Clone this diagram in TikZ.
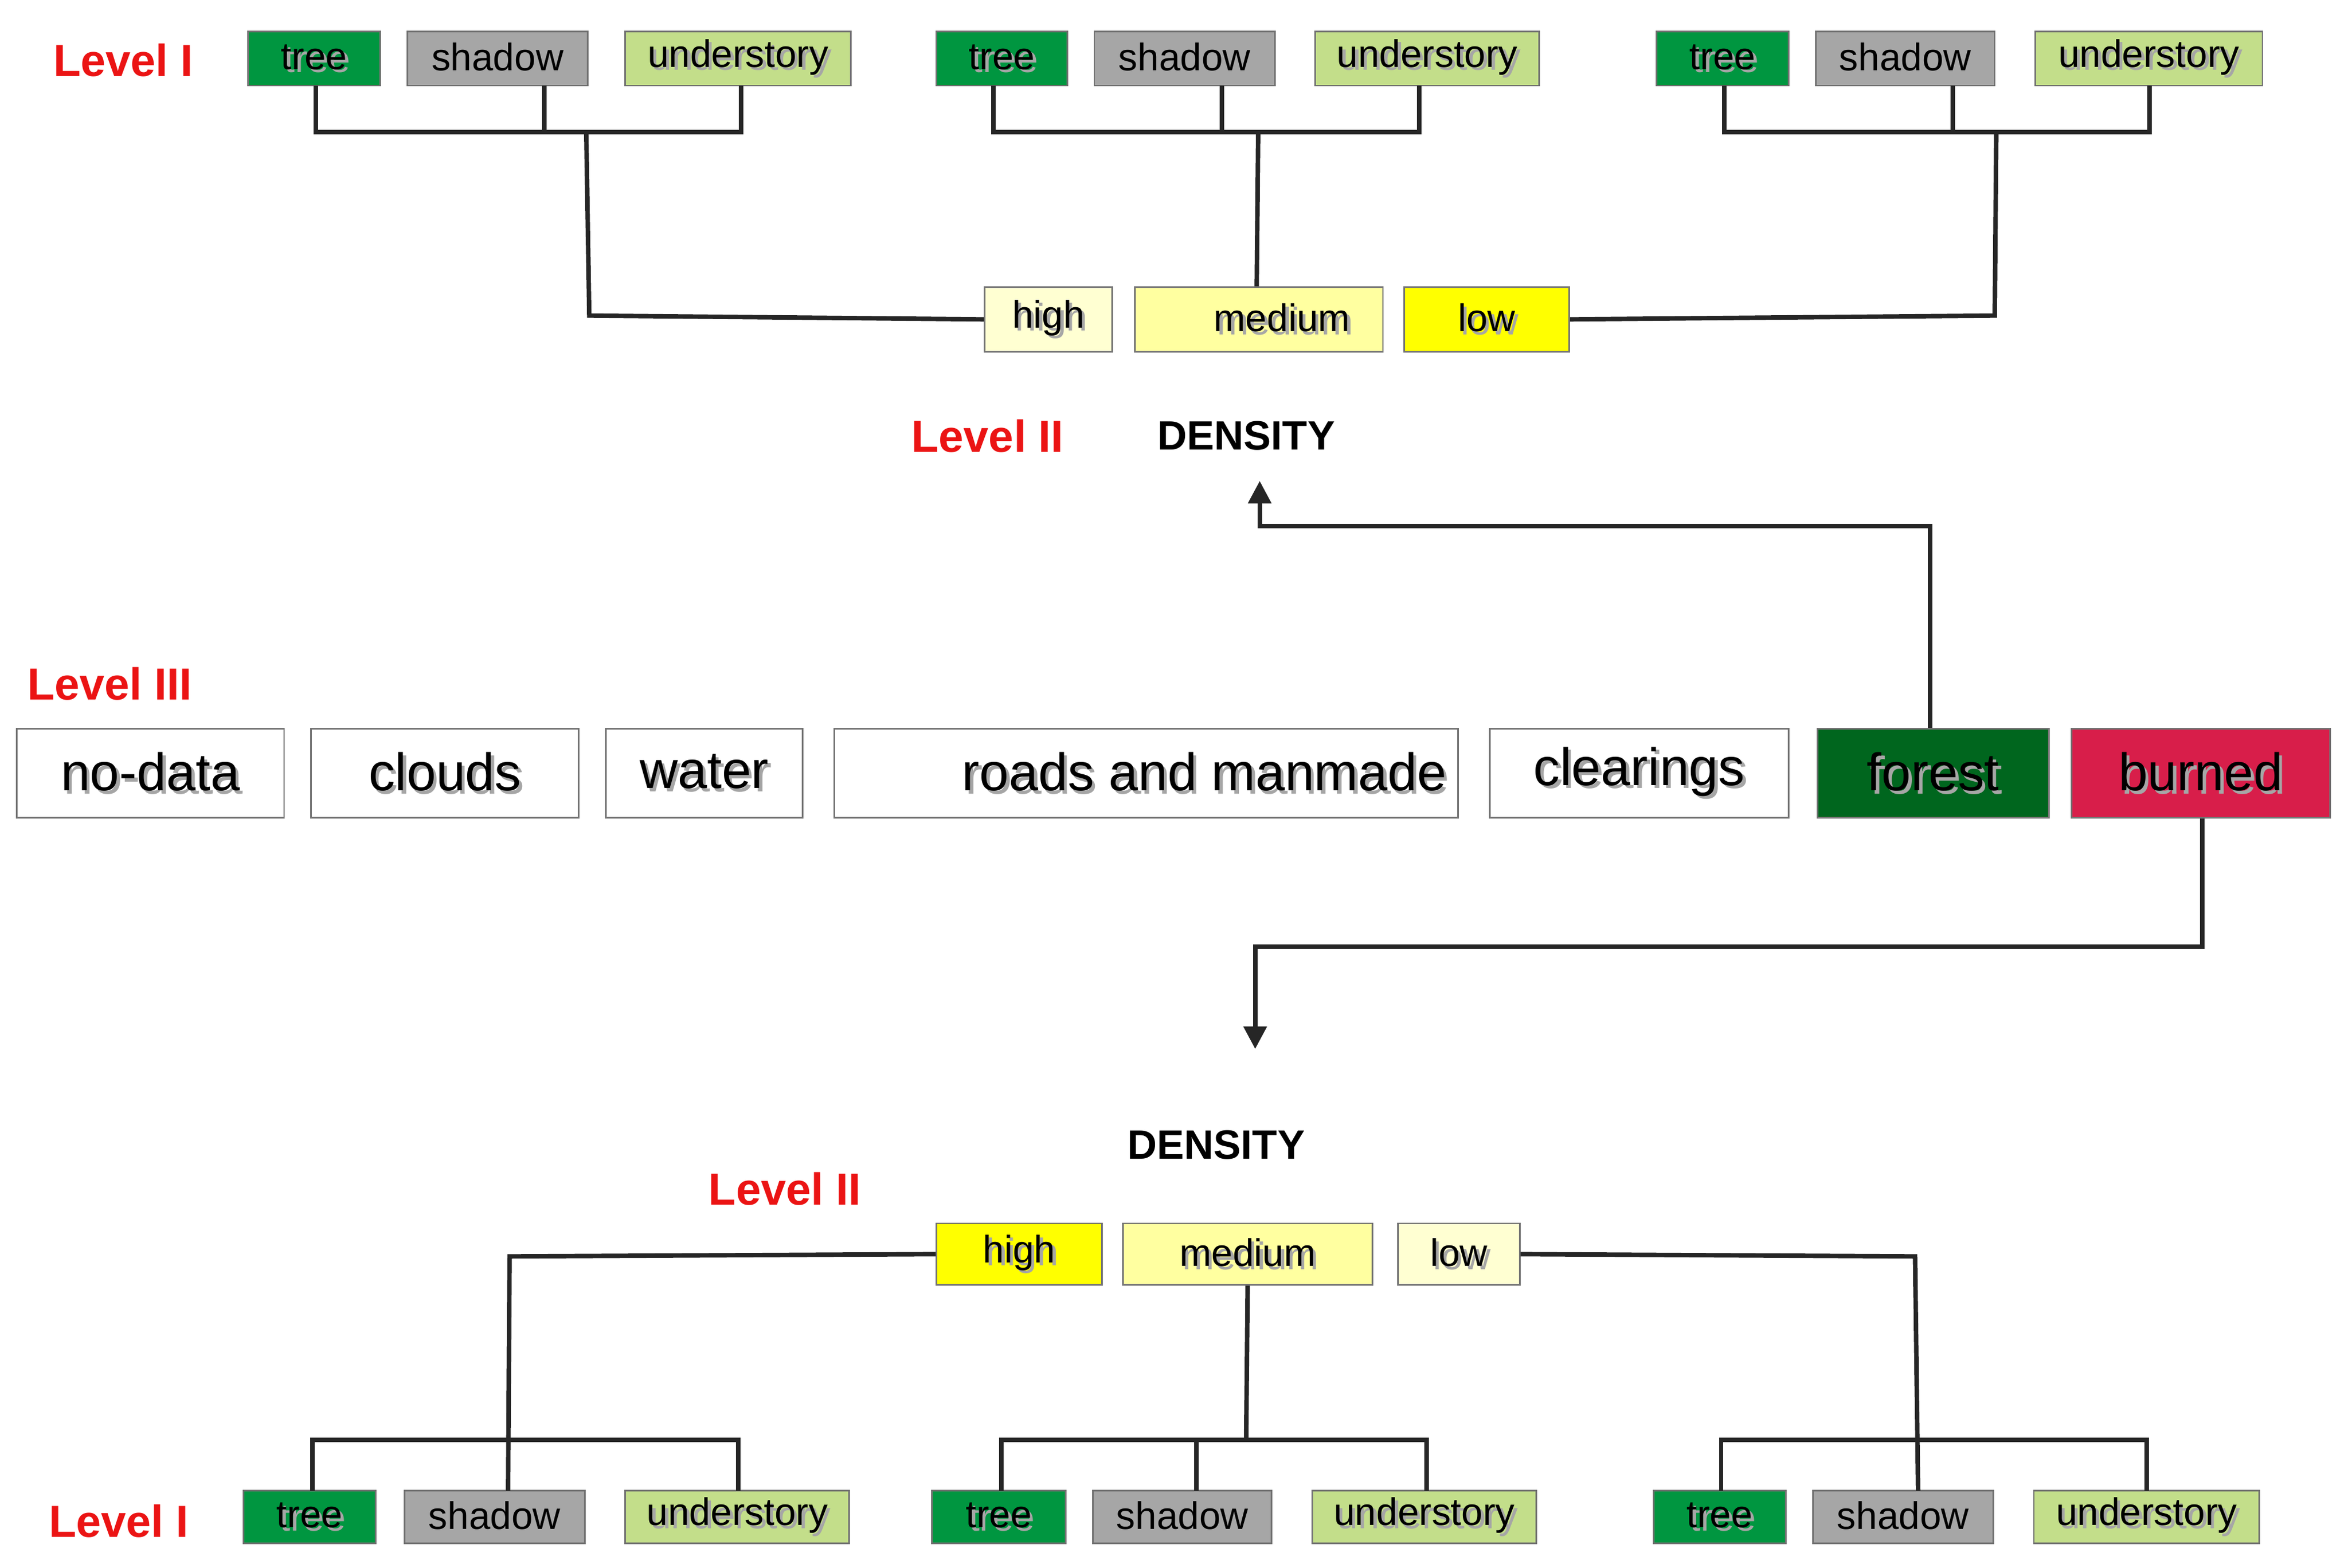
\documentclass[tikz,border=0pt]{standalone}
\usepackage{fontspec}
\setmainfont{Liberation Sans}
\usetikzlibrary{arrows.meta}
\definecolor{cTree}{RGB}{0,150,64}
\definecolor{cShadow}{RGB}{166,166,166}
\definecolor{cUnder}{RGB}{195,222,138}
\definecolor{cY}{RGB}{255,255,0}
\definecolor{cYm}{RGB}{255,255,160}
\definecolor{cYl}{RGB}{255,255,210}
\definecolor{cForest}{RGB}{0,102,30}
\definecolor{cBurn}{RGB}{216,30,74}
\definecolor{cRed}{RGB}{235,20,20}
\newcommand\shd[1]{\makebox[0pt][l]{\raisebox{-1.2pt}{\hspace{1.2pt}\textcolor{black!35}{#1}}}#1}
\newcommand\bx[7]{\node[#6, minimum width={(#3-#2)*0.02cm}, minimum height={(#5-#4)*0.02cm}] (#1) at ({(#2+#3)/2},{(#4+#5)/2}) {\shd{#7}};}
\tikzset{
 box/.style={draw=black!55, line width=0.6pt, inner sep=0pt},
 sm/.style={box, font=\fontsize{14.5}{16}\selectfont},
 big/.style={box, font=\fontsize{20}{22}\selectfont},
 ln/.style={line width=1.7pt, black!85},
 arr/.style={ln, -{Triangle[width=0.3cm,length=0.3cm]}},
 lvl/.style={text=cRed, font=\fontsize{17}{19}\selectfont\bfseries},
 dens/.style={font=\fontsize{15.5}{17}\selectfont\bfseries}
}
\begin{document}
\begin{tikzpicture}[x=0.02cm,y=-0.02cm]
\useasboundingbox (0,0) rectangle (1562,1043);
% top level I
\node[lvl] (L1t) at (82,40) {Level I};
\bx{ta1}{165}{253}{21}{57}{sm,fill=cTree}{tree}
\bx{sa1}{271}{391}{21}{57}{sm,fill=cShadow}{shadow}
\bx{ua1}{416}{566}{21}{57}{sm,fill=cUnder}{understory}
\bx{ta2}{623}{710}{21}{57}{sm,fill=cTree}{tree}
\bx{sa2}{728}{848}{21}{57}{sm,fill=cShadow}{shadow}
\bx{ua2}{875}{1024}{21}{57}{sm,fill=cUnder}{understory}
\bx{ta3}{1102}{1190}{21}{57}{sm,fill=cTree}{tree}
\bx{sa3}{1208}{1327}{21}{57}{sm,fill=cShadow}{shadow}
\bx{ua3}{1354}{1505}{21}{57}{sm,fill=cUnder}{understory}
% top level II
\bx{ht}{655}{740}{191}{234}{sm,fill=cYl}{high}
\bx{mt}{755}{920}{191}{234}{sm,fill=cYm}{\hspace{1.2em}medium}
\bx{lt}{934}{1044}{191}{234}{sm,fill=cY}{low}
\draw[ln] (210,57) -- (210,88) -- (493,88) -- (493,57);
\draw[ln] (362,57) -- (362,88);
\draw[ln] (390,88) -- (392,210) -- (ht.west);
\draw[ln] (661,57) -- (661,88) -- (944,88) -- (944,57);
\draw[ln] (813,57) -- (813,88);
\draw[ln] (837,88) -- (mt.north -| 836,0);
\draw[ln] (1147,57) -- (1147,88) -- (1430,88) -- (1430,57);
\draw[ln] (1299,57) -- (1299,88);
\draw[ln] (1328,88) -- (1327,210) -- (lt.east);
\node[lvl] (L2t) at (657,290) {Level II};
\node[dens] (Dt) at (829,290) {DENSITY};
% level III
\node[lvl] (L3) at (73,455) {Level III};
\bx{nd}{11}{189}{485}{544}{big,fill=white}{no-data}
\bx{cl}{207}{385}{485}{544}{big,fill=white}{clouds}
\bx{wa}{403}{534}{485}{544}{big,fill=white}{water}
\bx{rd}{555}{970}{485}{544}{big,fill=white}{\hspace{2.2em}roads and manmade}
\bx{cr}{991}{1190}{485}{544}{big,fill=white}{clearings}
\bx{fo}{1209}{1363}{485}{544}{big,fill=cForest}{forest}
\bx{bu}{1378}{1550}{485}{544}{big,fill=cBurn}{burned}
\coordinate (ea) at (838,320);
\coordinate (eb) at (835,698);
\draw[arr] (fo.north -| 1284,0) -- (1284,350) -- (838,350) -- (ea);
\draw[arr] (bu.south -| 1465,0) -- (1465,630) -- (835,630) -- (eb);
% bottom
\node[dens] (Db) at (809,762) {DENSITY};
\node[lvl] (L2b) at (522,791) {Level II};
\bx{hb}{623}{733}{814}{855}{sm,fill=cY}{high}
\bx{mb}{747}{913}{814}{855}{sm,fill=cYm}{medium}
\bx{lb}{930}{1011}{814}{855}{sm,fill=cYl}{low}
\node[lvl] (L1b) at (79,1012) {Level I};
\bx{tb1}{162}{250}{992}{1027}{sm,fill=cTree}{tree}
\bx{sb1}{269}{389}{992}{1027}{sm,fill=cShadow}{shadow}
\bx{ub1}{416}{565}{992}{1027}{sm,fill=cUnder}{understory}
\bx{tb2}{620}{709}{992}{1027}{sm,fill=cTree}{tree}
\bx{sb2}{727}{846}{992}{1027}{sm,fill=cShadow}{shadow}
\bx{ub2}{873}{1022}{992}{1027}{sm,fill=cUnder}{understory}
\bx{tb3}{1100}{1188}{992}{1027}{sm,fill=cTree}{tree}
\bx{sb3}{1206}{1326}{992}{1027}{sm,fill=cShadow}{shadow}
\bx{ub3}{1353}{1503}{992}{1027}{sm,fill=cUnder}{understory}
\draw[ln] (208,992) -- (208,958) -- (491,958) -- (491,992);
\draw[ln] (hb.west) -- (339,836) -- (338,992);
\draw[ln] (666,992) -- (666,958) -- (949,958) -- (949,992);
\draw[ln] (796,958) -- (796,992);
\draw[ln] (mb.south -| 830,0) -- (829,958);
\draw[ln] (1145,992) -- (1145,958) -- (1428,958) -- (1428,992);
\draw[ln] (lb.east) -- (1274,836) -- (1276,992);
\end{tikzpicture}
\end{document}
